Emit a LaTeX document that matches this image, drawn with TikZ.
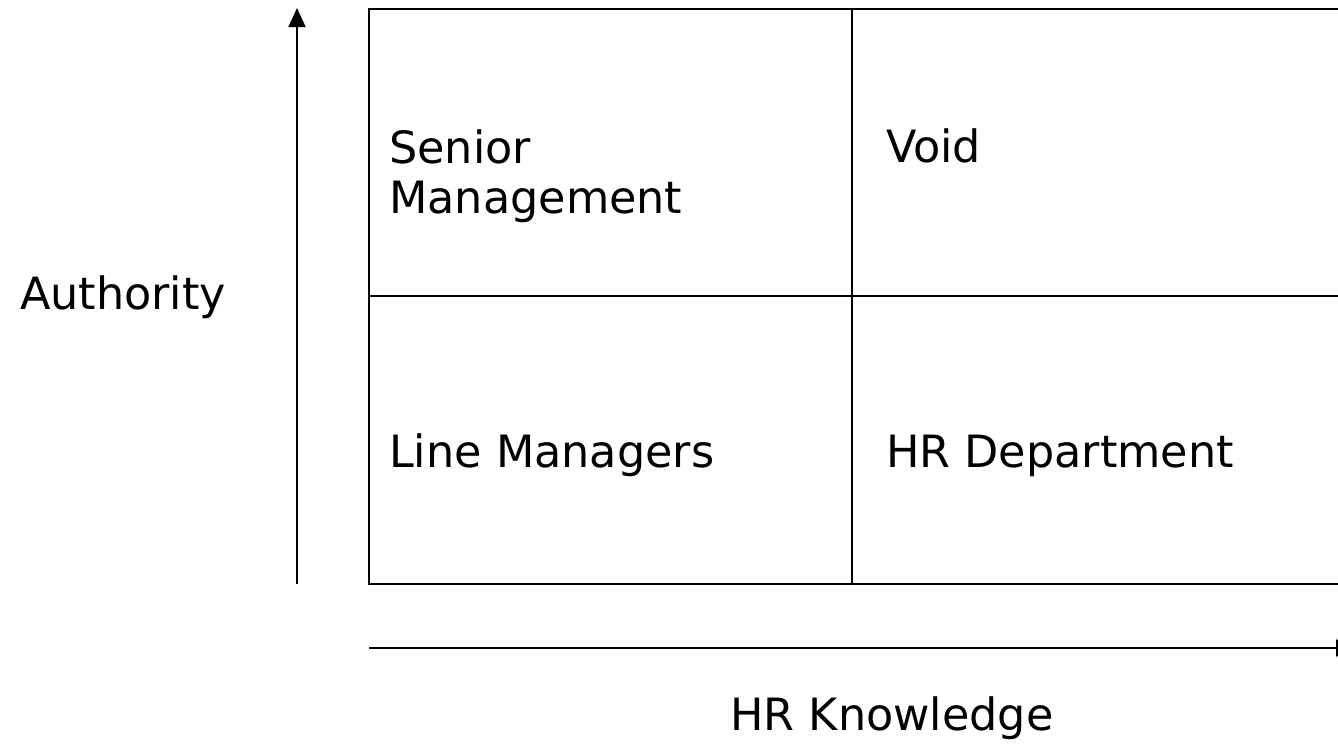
\documentclass[tikz,border=0pt]{standalone}
\usepackage{fontspec}
\setmainfont{DejaVu Sans}
\usetikzlibrary{arrows.meta}
\begin{document}
\begin{tikzpicture}[x=1pt,y=-1pt,
  gridline/.style={line width=2.2pt,black},
  axisline/.style={line width=1.8pt,black,-{Triangle[length=19pt,width=17pt]}},
  celltext/.style={anchor=base west,inner sep=0pt,font=\fontsize{44.5}{50}\selectfont,align=left},
  axistext/.style={inner sep=0pt,font=\fontsize{44.5}{50}\selectfont}]
\useasboundingbox (0,0) rectangle (1338,744);
% grid
\coordinate (tl) at (369,9);
\coordinate (bl) at (369,584);
\coordinate (ml) at (369,296);
\coordinate (tr) at (1345,9);
\coordinate (br) at (1345,584);
\coordinate (mr) at (1345,296);
\coordinate (tm) at (852,9);
\coordinate (bm) at (852,584);
\draw[gridline] (tr) -- (tl) -- (bl) -- (br);
\draw[gridline] (ml) -- (mr);
\draw[gridline] (tm) -- (bm);
% axes
\coordinate (ya) at (297,584);
\coordinate (yb) at (297,8);
\coordinate (xa) at (369,648);
\coordinate (xb) at (1355,648);
\draw[axisline] (ya) -- (yb);
\draw[axisline] (xa) -- (xb);
% labels
\node[celltext] (senior) at (389,213) {Senior\\Management};
\node[celltext] (void) at (886,162) {Void};
\node[celltext] (line) at (389,467) {Line Managers};
\node[celltext] (hr) at (886,467) {HR Department};
\node[axistext] (auth) at (123,297) {Authority};
\node[axistext] (know) at (892,718) {HR Knowledge};
\end{tikzpicture}
\end{document}
